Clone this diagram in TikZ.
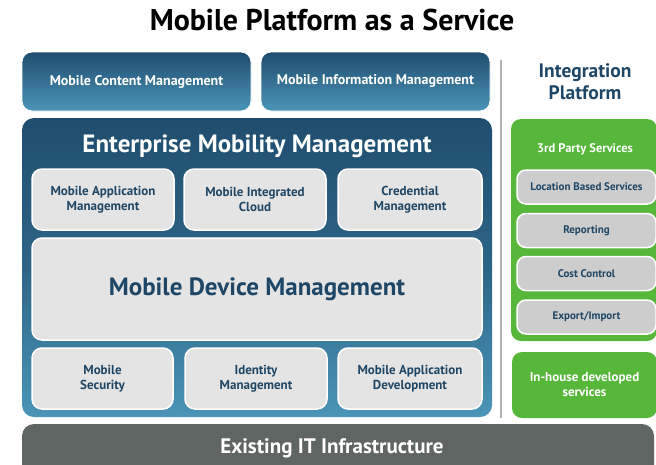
\documentclass[tikz,border=0pt]{standalone}
\usepackage{fontspec}
\setmainfont{PT Sans}
\usepackage{tikz}
\usetikzlibrary{positioning}

\definecolor{darkblue}{HTML}{1F4D6E}
\definecolor{midblue}{HTML}{2D6587}
\definecolor{lightblue}{HTML}{4B95B8}
\definecolor{boxgray}{HTML}{E4E4E4}
\definecolor{sidegray}{HTML}{CDCDCD}
\definecolor{leafgreen}{HTML}{57B73A}
\definecolor{basegray}{HTML}{5F6562}
\definecolor{textblue}{HTML}{1E4666}

\begin{document}
\begin{tikzpicture}
[x=1pt,y=-1pt,
 topbox/.style={rectangle,rounded corners=10pt,top color=darkblue,bottom color=lightblue,draw=white,line width=0.8pt,
   text=white,font=\fontsize{14}{15}\selectfont\bfseries,inner sep=0pt,minimum width=229pt,minimum height=59pt},
 graybox/.style={rectangle,rounded corners=10pt,fill=boxgray,draw=white,line width=1.5pt,
   text=textblue,font=\fontsize{13}{15}\selectfont\bfseries,align=center,inner sep=0pt,minimum width=142pt,minimum height=61pt},
 sidebox/.style={rectangle,rounded corners=9pt,fill=sidegray,draw=white,line width=1.5pt,
   text=textblue,font=\fontsize{11}{13}\selectfont\bfseries,inner sep=0pt,minimum width=139pt,minimum height=34pt},
 greenbox/.style={rectangle,rounded corners=10pt,fill=leafgreen,draw=none,text=white,
   font=\fontsize{13}{15}\selectfont\bfseries,align=center,inner sep=0pt}]
\clip (0,0) rectangle (656,464);
\fill[white] (0,0) rectangle (656,464);

% title
\node[font=\fontsize{30}{33}\selectfont\bfseries] (title) at (332,20) {Mobile Platform as a Service};

% top layer
\node[topbox] (mcm) at (136.5,81.5) {Mobile Content Management};
\node[topbox] (mim) at (375.5,81.5) {Mobile Information Management};

% enterprise mobility management
\node[rectangle,rounded corners=12pt,top color=darkblue,bottom color=lightblue,middle color=midblue,
  minimum width=470pt,minimum height=299pt,inner sep=0pt] (emm) at (257,267.5) {};
\node[text=white,font=\fontsize{25}{28}\selectfont\bfseries] (emmtitle) at (257,146) {Enterprise Mobility Management};

\node[graybox] (mam) at (103,199.5) {Mobile Application\\Management};
\node[graybox] (mic) at (255,199.5) {Mobile Integrated\\Cloud};
\node[graybox,minimum width=144pt] (cred) at (410,199.5) {Credential\\Management};

\node[graybox,minimum width=450pt,minimum height=102pt,font=\fontsize{25}{28}\selectfont\bfseries] (mdm) at (257,289) {Mobile Device Management};

\node[graybox,minimum width=141pt] (msec) at (102.5,378.5) {Mobile\\Security};
\node[graybox] (idm) at (256,378.5) {Identity\\Management};
\node[graybox,minimum width=144pt] (mad) at (410,378.5) {Mobile Application\\Development};

% separator
\coordinate (septop) at (501,60);
\coordinate (sepbot) at (501,418);
\draw[line width=2pt,color=black!30] (septop) -- (sepbot);

% integration platform
\node[text=textblue,font=\fontsize{19.5}{22}\selectfont\bfseries,align=center] (intp) at (585,82) {Integration\\Platform};

\node[greenbox,minimum width=146pt,minimum height=222pt] (third) at (584,230) {};
\node[text=white,font=\fontsize{12.5}{15}\selectfont\bfseries] (thirdtitle) at (585,149) {3rd Party Services};
\node[sidebox] (lbs) at (586.5,187) {Location Based Services};
\node[sidebox] (rep) at (586.5,230.5) {Reporting};
\node[sidebox] (cost) at (586.5,273.5) {Cost Control};
\node[sidebox] (exim) at (586.5,317) {Export/Import};

\node[greenbox,minimum width=145pt,minimum height=66pt] (inhouse) at (584.5,385) {In-house developed\\services};

% base layer
\node[rectangle,rounded corners=12pt,fill=basegray,minimum width=632pt,minimum height=60pt,inner sep=0pt] (infra) at (338,454) {};
\node[text=white,font=\fontsize{21}{24}\selectfont\bfseries] (infratext) at (332,448.5) {Existing IT Infrastructure};
\end{tikzpicture}
\end{document}
